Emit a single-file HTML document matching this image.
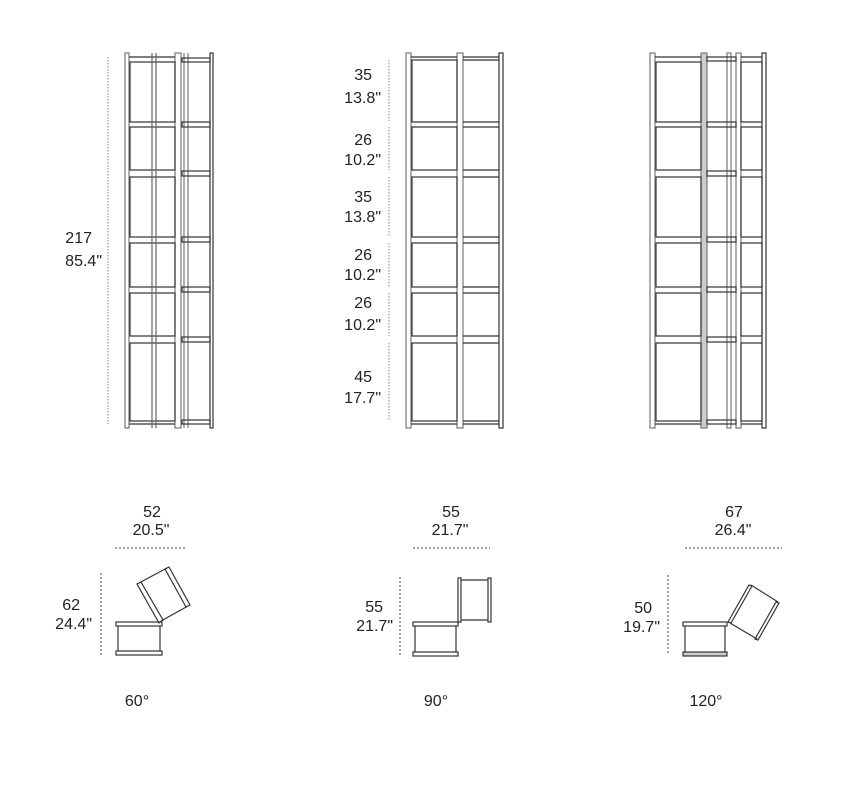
<!DOCTYPE html>
<html><head><meta charset="utf-8"><style>
html,body{margin:0;padding:0;background:#fff;}
svg{display:block;}
text{font-family:"Liberation Sans",sans-serif;font-size:16px;fill:#222;}
</style></head><body>
<svg width="842" height="788" viewBox="0 0 842 788" xmlns="http://www.w3.org/2000/svg">
<defs>
<g id="rows">
<rect x="0" y="60" width="1" height="62"/>
</g>
</defs>
<g fill="none" stroke="#333" stroke-width="1.2">
<!-- MIDDLE FRAME -->
<rect x="406" y="53" width="5" height="375" stroke="#777"/>
<rect x="457" y="53" width="6" height="375" stroke="#777"/>
<rect x="499" y="53" width="4" height="375"/>
<line x1="411" y1="57" x2="457" y2="57"/><line x1="411" y1="424" x2="457" y2="424"/>
<line x1="463" y1="57" x2="499" y2="57"/><line x1="463" y1="424" x2="499" y2="424"/>
<rect x="412" y="60" width="45" height="62"/><rect x="412" y="127" width="45" height="43"/>
<rect x="412" y="177" width="45" height="60"/><rect x="412" y="243" width="45" height="44"/>
<rect x="412" y="293" width="45" height="43"/><rect x="412" y="343" width="45" height="78"/>
<g>
<line x1="463" y1="60" x2="499" y2="60"/><line x1="463" y1="122" x2="499" y2="122"/><line x1="463" y1="127" x2="499" y2="127"/>
<line x1="463" y1="170" x2="499" y2="170"/><line x1="463" y1="177" x2="499" y2="177"/>
<line x1="463" y1="237" x2="499" y2="237"/><line x1="463" y1="243" x2="499" y2="243"/>
<line x1="463" y1="287" x2="499" y2="287"/><line x1="463" y1="293" x2="499" y2="293"/>
<line x1="463" y1="336" x2="499" y2="336"/><line x1="463" y1="343" x2="499" y2="343"/>
<line x1="463" y1="421" x2="499" y2="421"/>
</g>
<!-- LEFT FRAME -->
<rect x="125" y="53" width="4" height="375" stroke="#777"/>
<rect x="175" y="53" width="6" height="375" stroke="#777"/>
<rect x="210" y="53" width="3" height="375"/>
<line x1="129" y1="57" x2="175" y2="57"/><line x1="129" y1="424" x2="175" y2="424"/>
<rect x="130" y="62" width="45" height="60"/><rect x="130" y="127" width="45" height="43"/>
<rect x="130" y="177" width="45" height="60"/><rect x="130" y="243" width="45" height="44"/>
<rect x="130" y="293" width="45" height="43"/><rect x="130" y="343" width="45" height="78"/>
<line x1="152" y1="53" x2="152" y2="428" stroke="#666"/><line x1="156" y1="53" x2="156" y2="428" stroke="#666"/>
<line x1="184" y1="53" x2="184" y2="428" stroke="#777"/><line x1="188" y1="53" x2="188" y2="428" stroke="#777"/>
<rect x="182" y="58" width="28" height="4"/><rect x="182" y="122" width="28" height="5"/>
<rect x="182" y="171" width="28" height="5"/><rect x="182" y="237" width="28" height="5"/>
<rect x="182" y="287" width="28" height="5"/><rect x="182" y="337" width="28" height="5"/>
<rect x="182" y="420" width="28" height="4"/>
<!-- RIGHT FRAME -->
<rect x="650" y="53" width="5" height="375" stroke="#777"/>
<rect x="701" y="53" width="6" height="375" stroke="#777" fill="#ccc"/>
<rect x="727" y="53" width="4" height="375" stroke="#777"/>
<rect x="736" y="53" width="5" height="375" stroke="#777"/>
<rect x="762" y="53" width="4" height="375"/>
<line x1="655" y1="57" x2="701" y2="57"/><line x1="655" y1="424" x2="701" y2="424"/>
<rect x="656" y="62" width="45" height="60"/><rect x="656" y="127" width="45" height="43"/>
<rect x="656" y="177" width="45" height="60"/><rect x="656" y="243" width="45" height="44"/>
<rect x="656" y="293" width="45" height="43"/><rect x="656" y="343" width="45" height="78"/>
<g>
<rect x="707" y="57" width="29" height="4"/><rect x="707" y="122" width="29" height="5"/>
<rect x="707" y="171" width="29" height="5"/><rect x="707" y="237" width="29" height="5"/>
<rect x="707" y="287" width="29" height="5"/><rect x="707" y="337" width="29" height="5"/>
<rect x="707" y="420" width="29" height="4"/>
<rect x="741" y="62" width="21" height="60"/><rect x="741" y="127" width="21" height="43"/>
<rect x="741" y="177" width="21" height="60"/><rect x="741" y="243" width="21" height="44"/>
<rect x="741" y="293" width="21" height="43"/><rect x="741" y="343" width="21" height="78"/>
<line x1="741" y1="57" x2="762" y2="57"/><line x1="741" y1="424" x2="762" y2="424"/>
</g>
<!-- dimension dotted lines -->
<g stroke="#888" stroke-dasharray="1.5,1.5" stroke-width="1">
<line x1="108" y1="57" x2="108" y2="424"/>
<line x1="389" y1="60" x2="389" y2="121"/><line x1="389" y1="127" x2="389" y2="170"/>
<line x1="389" y1="177" x2="389" y2="236"/><line x1="389" y1="243" x2="389" y2="287"/>
<line x1="389" y1="293" x2="389" y2="336"/><line x1="389" y1="343" x2="389" y2="421"/>
</g>
<g stroke="#444" stroke-dasharray="2,2" stroke-width="1">
<line x1="115" y1="548" x2="186" y2="548"/><line x1="101" y1="573" x2="101" y2="655"/>
<line x1="413" y1="548" x2="490" y2="548"/><line x1="400" y1="577" x2="400" y2="655"/>
<line x1="685" y1="548" x2="782" y2="548"/><line x1="668" y1="575" x2="668" y2="655"/>
</g>
<!-- plan 60 -->
<rect x="116" y="622" width="46" height="4"/><rect x="116" y="651" width="46" height="4"/>
<line x1="118" y1="626" x2="118" y2="651"/><line x1="160" y1="626" x2="160" y2="651"/>
<polygon points="137,584 141,582 163,620 159,623"/>
<polygon points="165,569 169,567 190,605 186,607"/>
<line x1="139" y1="583" x2="167" y2="568"/><line x1="161" y1="621" x2="188" y2="606"/>
<!-- plan 90 -->
<rect x="413" y="622" width="45" height="4"/><rect x="413" y="652" width="45" height="4"/>
<line x1="415" y1="626" x2="415" y2="652"/><line x1="456" y1="626" x2="456" y2="652"/>
<rect x="458" y="578" width="3" height="44"/><rect x="488" y="578" width="3" height="44"/>
<line x1="461" y1="580" x2="488" y2="580"/><line x1="461" y1="620" x2="488" y2="620"/>
<!-- plan 120 -->
<rect x="683" y="622" width="44" height="4"/><rect x="683" y="652" width="44" height="4" fill="#ccc"/>
<line x1="685" y1="626" x2="685" y2="652"/><line x1="725" y1="626" x2="725" y2="652"/>
<polygon points="728,622 749,585 752,586 731,623"/>
<polygon points="755,639 776,602 779,603 758,640"/>
<line x1="751" y1="585" x2="778" y2="602"/><line x1="730" y1="623" x2="757" y2="639"/>
</g>
<!-- labels -->
<g text-anchor="end">
<text x="92" y="243">217</text><text x="102" y="266">85.4"</text>
<text x="372" y="80">35</text><text x="381" y="103">13.8"</text>
<text x="372" y="145">26</text><text x="381" y="165">10.2"</text>
<text x="372" y="202">35</text><text x="381" y="222">13.8"</text>
<text x="372" y="260">26</text><text x="381" y="280">10.2"</text>
<text x="372" y="308">26</text><text x="381" y="330">10.2"</text>
<text x="372" y="382">45</text><text x="381" y="403">17.7"</text>
<text x="80" y="610">62</text><text x="92" y="629">24.4"</text>
<text x="383" y="612">55</text><text x="393" y="631">21.7"</text>
<text x="652" y="613">50</text><text x="660" y="632">19.7"</text>
</g>
<g text-anchor="middle">
<text x="152" y="517">52</text><text x="151" y="535">20.5"</text>
<text x="451" y="517">55</text><text x="450" y="535">21.7"</text>
<text x="734" y="517">67</text><text x="733" y="535">26.4"</text>
<text x="137" y="706">60°</text><text x="436" y="706">90°</text><text x="706" y="706">120°</text>
</g>
</svg>
</body></html>
